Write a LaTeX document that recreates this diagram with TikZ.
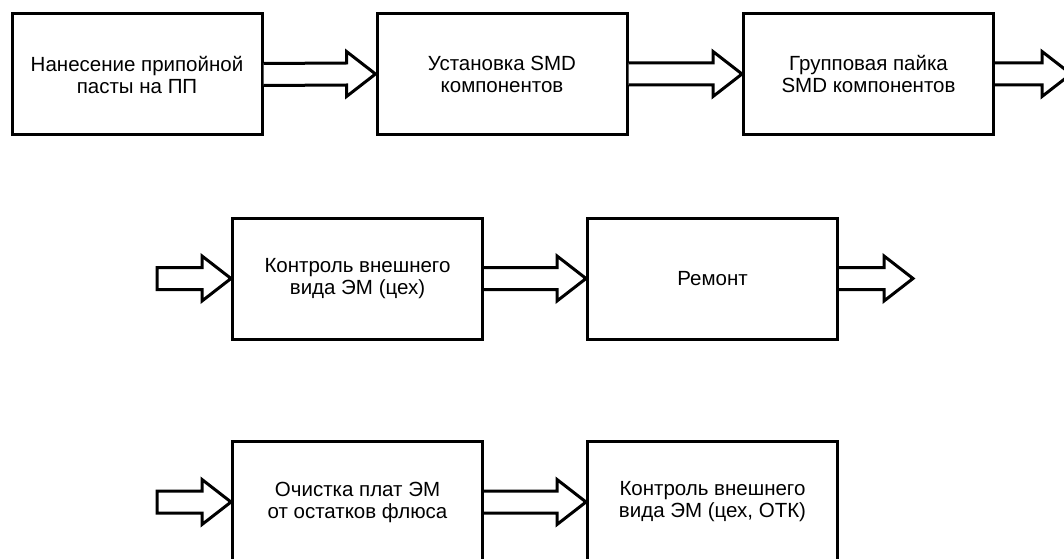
\documentclass[tikz,border=0pt]{standalone}
\usepackage{fontspec}
\setmainfont{Liberation Sans}
\usetikzlibrary{calc}
\tikzset{
  box/.style={draw, line width=3pt, rectangle, minimum width=250pt, minimum height=121pt,
    align=center, inner sep=0pt, font=\fontsize{20.5pt}{22pt}\selectfont},
  fat/.style={draw, line width=3pt, line join=miter, fill=white}
}
% fat arrow from (#1) to tip (#2), open at the tail
\newcommand\fatarr[2]{%
  \draw[fat] ($(#1)+(0,11)$) -- ($(#2)+(-29,11)$) -- ($(#2)+(-29,22.5)$) -- (#2)
    -- ($(#2)+(-29,-22.5)$) -- ($(#2)+(-29,-11)$) -- ($(#1)+(0,-11)$);}
% closed fat arrow (free tail)
\newcommand\fatarrc[2]{%
  \draw[fat] ($(#1)+(0,11)$) -- ($(#2)+(-29,11)$) -- ($(#2)+(-29,22.5)$) -- (#2)
    -- ($(#2)+(-29,-22.5)$) -- ($(#2)+(-29,-11)$) -- ($(#1)+(0,-11)$) -- cycle;}
\begin{document}
\begin{tikzpicture}[x=1pt,y=1pt]
\fill[white] (0,0) rectangle (1064,558);
\clip (0,0) rectangle (1064,558);
% row 1
\node[box] (b1) at (137,483.5) {Нанесение припойной\\пасты на ПП};
\node[box] (b2) at (502,484) {Установка SMD\\компонентов};
\node[box] (b3) at (868.5,484) {Групповая пайка\\SMD компонентов};
% row 2
\node[box] (b4) at (357.5,279.5) {Контроль внешнего\\вида ЭМ (цех)};
\node[box] (b5) at (712.5,279.5) {Ремонт};
% row 3
\node[box] (b6) at (357.5,56) {Очистка плат ЭМ\\от остатков флюса};
\node[box] (b7) at (712.5,56) {Контроль внешнего\\вида ЭМ (цех, ОТК)};
% free ends
\coordinate (o1) at (1071,484);
\coordinate (i2) at (157,279.5);
\coordinate (o2) at (913,279.5);
\coordinate (i3) at (157,56);
% connectors
\fatarr{b1.east}{b2.west}
\fatarr{b2.east}{b3.west}
\fatarr{b3.east}{o1}
\fatarrc{i2}{b4.west}
\fatarr{b4.east}{b5.west}
\fatarr{b5.east}{o2}
\fatarrc{i3}{b6.west}
\fatarr{b6.east}{b7.west}
\end{tikzpicture}
\end{document}
